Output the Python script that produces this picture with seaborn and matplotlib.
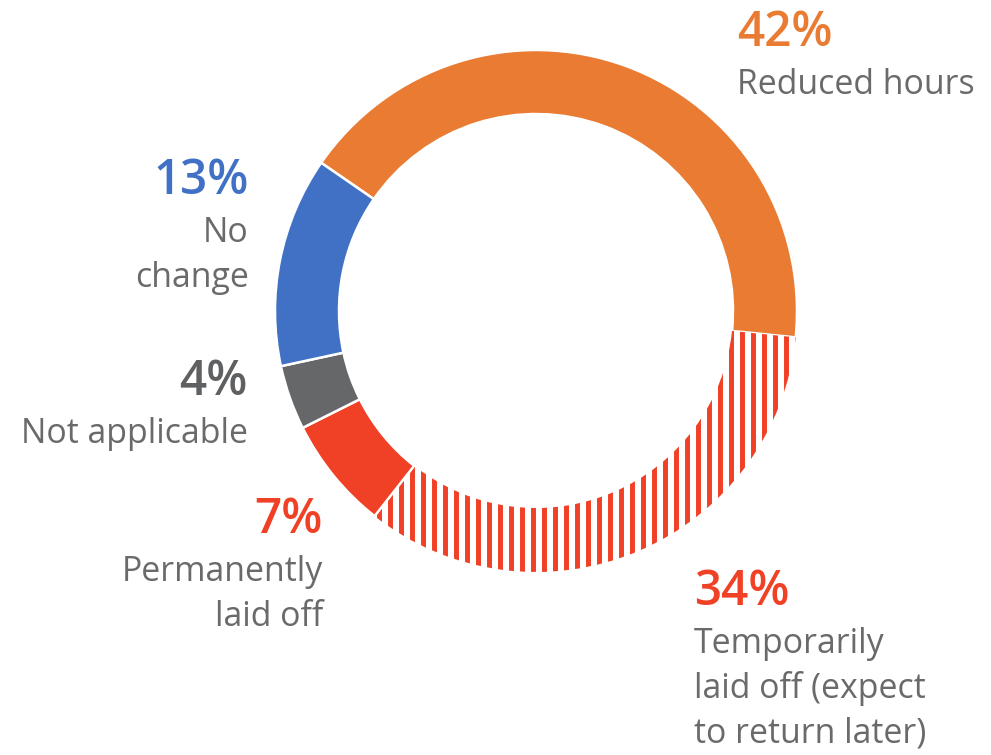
import matplotlib
matplotlib.use("Agg")
import matplotlib.pyplot as plt
import seaborn as sns

sns.set_theme(style="white")
plt.rcParams['font.family'] = ['Open Sans', 'DejaVu Sans']

DPI = 132
plt.rcParams['hatch.linewidth'] = 2.7

# data, clockwise from upper left
categories = ["Reduced hours", "Temporarily laid off (expect to return later)",
              "Permanently laid off", "Not applicable", "No change"]
shares = [42, 34, 7, 4, 13]
label_lines = [["Reduced hours"],
               ["Temporarily", "laid off (expect", "to return later)"],
               ["Permanently", "laid off"],
               ["Not applicable"],
               ["No", "change"]]
colors = ["#E97B33", "#F04126", "#F04126", "#666769", "#4071C4"]
text_grey = "#6A6A6A"

# label anchors in pixels (x, baseline of the % line, alignment)
anchors = [(737, 46, 'left'), (694, 605, 'left'), (323, 533, 'right'),
           (248, 395, 'right'), (249, 194, 'right')]

W, H = 991, 755
fig = plt.figure(figsize=(W / DPI, H / DPI), dpi=DPI)
ax = fig.add_axes([0, 0, 1, 1])

sep = 2.5 * 72 / DPI
wedges, _ = ax.pie(shares, colors=colors, startangle=145.4, counterclock=False,
                   center=(536, H - 311), radius=261, frame=True,
                   wedgeprops=dict(width=64, edgecolor='white', linewidth=sep))
ax.set_xlim(0, W)
ax.set_ylim(0, H)
ax.set_aspect('equal')
ax.axis('off')

# temporary lay-offs drawn as vertical stripes
hw = wedges[1]
hw.set_facecolor('white')
hw.set_edgecolor(colors[1])
hw.set_linewidth(0)
hw.set_hatch('||')

for share, lines, col, (x, yb, ha) in zip(shares, label_lines, colors, anchors):
    pct_col = col if col != "#666769" else "#5F6062"
    ax.text(x, H - yb, f"{share}%", ha=ha, va='baseline', fontsize=26,
            fontweight='semibold', color=pct_col)
    for i, line in enumerate(lines):
        ax.text(x, H - (yb + 48 + 45 * i), line, ha=ha, va='baseline',
                fontsize=18.5, color=text_grey)

fig.savefig("out.png", dpi=DPI)
